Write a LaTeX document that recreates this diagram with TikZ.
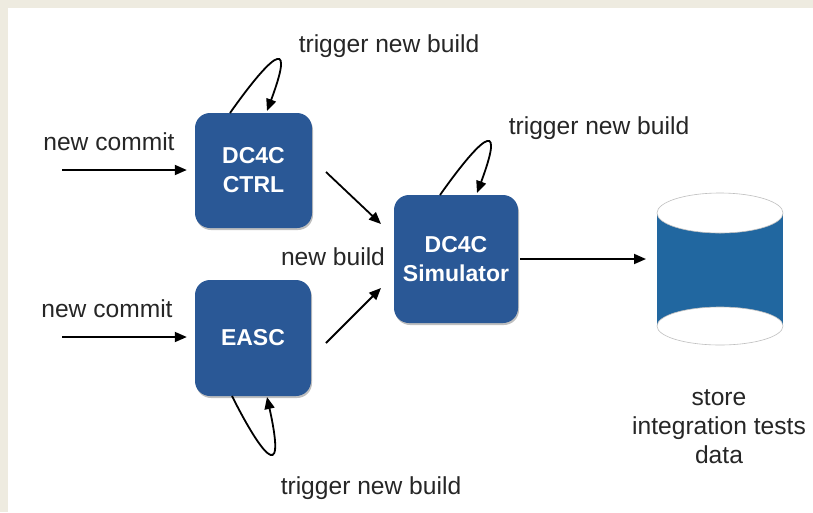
\documentclass[tikz,border=0pt]{standalone}
\usepackage{fontspec}
\setmainfont{Liberation Sans}
\usetikzlibrary{arrows.meta,shadows}
\definecolor{boxblue}{RGB}{42,88,150}
\definecolor{dbblue}{RGB}{33,103,160}
\definecolor{bgbeige}{RGB}{238,235,224}
\tikzset{
  pbox/.style={fill=boxblue, rounded corners=15pt, text=white,
    font=\fontsize{23}{29}\selectfont\bfseries, align=center,
    drop shadow={shadow xshift=1pt, shadow yshift=-2pt, opacity=0.25, fill=black}},
  lbl/.style={font=\fontsize{24.6}{29}\selectfont, anchor=base, inner sep=0pt, text=black!85},
  arr/.style={line width=1.8pt, -{Triangle[length=12pt,width=10pt]}},
}
\begin{document}
\begin{tikzpicture}[x=1pt,y=-1pt]
\useasboundingbox (0,0) rectangle (813,512);
\fill[bgbeige] (0,0) rectangle (813,512);
\fill[white] (8,8) rectangle (813,512);

% boxes
\node[pbox, minimum width=117pt, minimum height=115pt] (ctrl) at (253.5,170.5) {DC4C\\CTRL};
\node[pbox, minimum width=116pt, minimum height=116pt] (easc) at (253,338) {EASC};
\node[pbox, minimum width=124pt, minimum height=128pt] (sim) at (456,259) {DC4C\\Simulator};

% cylinder
\fill[dbblue] (657,213) rectangle (783,326);
\fill[white, draw=black!25, line width=0.6pt] (720,213) ellipse [x radius=63, y radius=20];
\fill[white, draw=black!25, line width=0.6pt] (720,326) ellipse [x radius=63, y radius=19];
\coordinate (db) at (657,259);

% inputs
\coordinate (in1) at (62,170);
\coordinate (in2) at (62,337);
\draw[arr, shorten >=8pt] (in1) -- (in1 -| ctrl.west);
\draw[arr, shorten >=8pt] (in2) -- (in2 -| easc.west);
\node[lbl] at (109,150) {new commit};
\node[lbl] at (107,317) {new commit};

% to simulator
\coordinate (cs1) at (326,172);
\coordinate (cs2) at (381,224);
\coordinate (es1) at (326,343);
\coordinate (es2) at (381,288);
\draw[arr] (cs1) -- (cs2);
\draw[arr] (es1) -- (es2);
\node[lbl] at (333,265) {new build};

% simulator to db
\draw[arr, shorten <=2pt, shorten >=11pt] (sim.east |- db) -- (db);

% loops
\coordinate (l1a) at (230,113);
\coordinate (l1b) at (267,111);
\draw[arr] (l1a) .. controls (266,62) and (298,28) .. (l1b);
\node[lbl] at (389,52) {trigger new build};

\coordinate (l2a) at (440,195);
\coordinate (l2b) at (477,193);
\draw[arr] (l2a) .. controls (476,144) and (508,110) .. (l2b);
\node[lbl] at (599,134) {trigger new build};

\coordinate (l3a) at (232,396);
\coordinate (l3b) at (267,397);
\draw[arr] (l3a) .. controls (258,448) and (288,492) .. (l3b);
\node[lbl] at (371,494) {trigger new build};

% db label
\node[lbl] at (719,405) {store};
\node[lbl] at (719,434) {integration tests};
\node[lbl] at (719,463) {data};
\end{tikzpicture}
\end{document}
